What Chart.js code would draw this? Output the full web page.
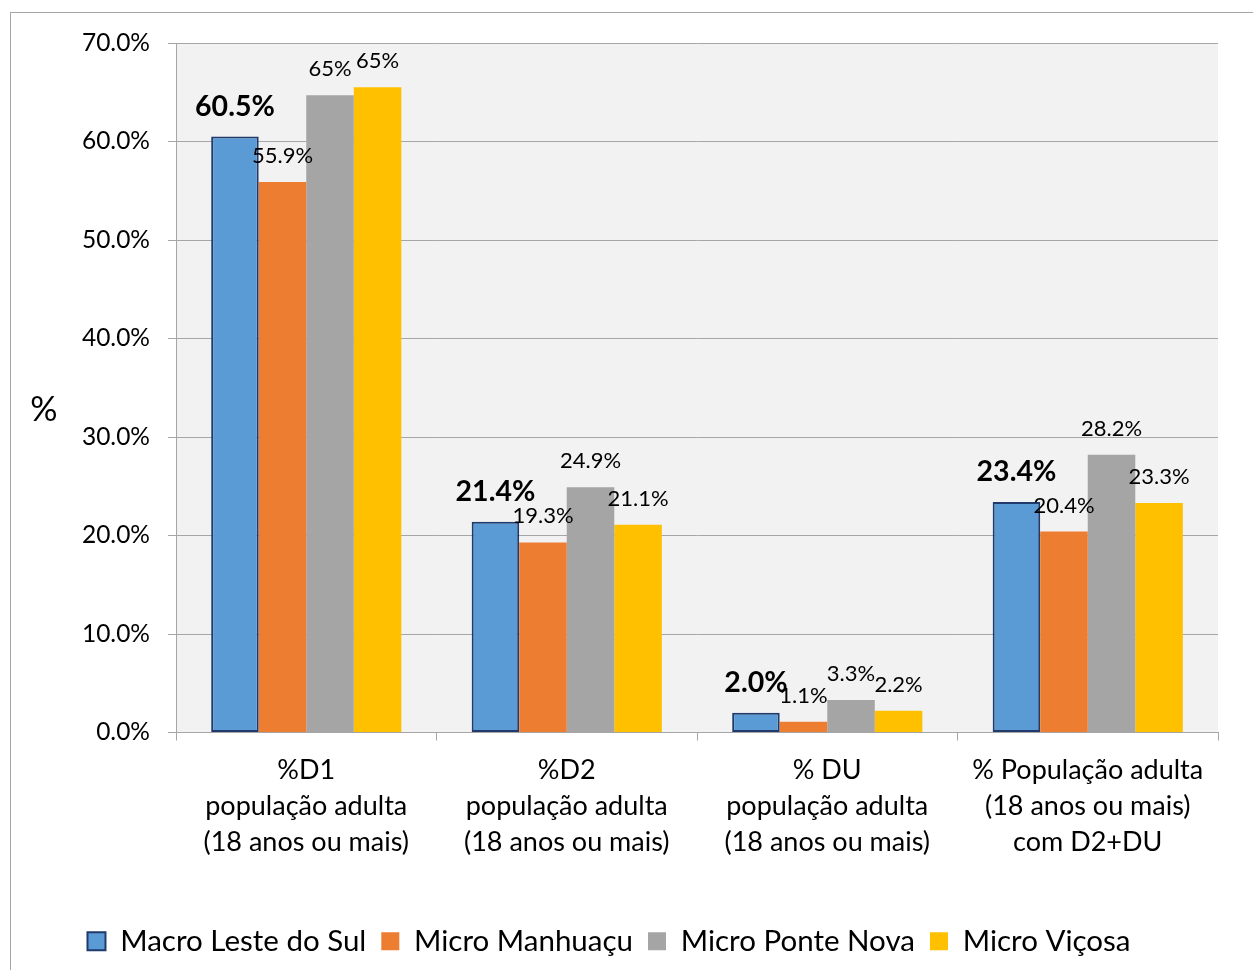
<!DOCTYPE html>
<html>
<head>
<meta charset="utf-8">
<script src="https://cdn.jsdelivr.net/npm/chart.js@4.4.0/dist/chart.umd.min.js"></script>
<style>
  body { margin: 0; background: #fff; }
  #wrap { width: 1253px; height: 970px; }
</style>
</head>
<body>
<div id="wrap"><canvas id="grafico" width="1253" height="970"></canvas></div>
<script>
// categorias e series
var categorias = [
    ['%D1', 'população adulta', '(18 anos ou mais)'],
    ['%D2', 'população adulta', '(18 anos ou mais)'],
    ['% DU', 'população adulta', '(18 anos ou mais)'],
    ['% População adulta', '(18 anos ou mais)', 'com D2+DU']
];
var series = ['Macro Leste do Sul', 'Micro Manhuaçu', 'Micro Ponte Nova', 'Micro Viçosa'];
var macroLeste = [60.5, 21.4, 2.0, 23.4];
var microManhuacu = [55.9, 19.3, 1.1, 20.4];
var microPonteNova = [64.7, 24.9, 3.3, 28.2];
var microVicosa = [65.5, 21.1, 2.2, 23.3];
// rotulos como aparecem no grafico
var rotMacro = ['60.5%', '21.4%', '2.0%', '23.4%'];
var rotManhuacu = ['55.9%', '19.3%', '1.1%', '20.4%'];
var rotPonteNova = ['65%', '24.9%', '3.3%', '28.2%'];
var rotVicosa = ['65%', '21.1%', '2.2%', '23.3%'];
var yTicks = [0, 10, 20, 30, 40, 50, 60, 70];

var cores = ['#5b9bd5', '#ed7d31', '#a5a5a5', '#ffc000'];
var fonte = 'Lato, "Open Sans", sans-serif';

var fundoPlugin = {
    id: 'fundo',
    beforeDraw: function (chart) {
        var c = chart.ctx, a = chart.chartArea;
        c.save();
        c.strokeStyle = '#a6a6a6';
        c.lineWidth = 1;
        c.strokeRect(10.5, 12.5, 1400, 1100);
        c.fillStyle = '#f2f2f2';
        c.fillRect(a.left, a.top, a.right - a.left, a.bottom - a.top);
        c.restore();
    },
    afterDraw: function (chart) {
        var c = chart.ctx;
        c.save();
        c.fillStyle = '#000';
        c.font = '34px ' + fonte;
        c.textAlign = 'center';
        c.textBaseline = 'middle';
        c.fillText('%', 44, 410);
        c.restore();
    }
};

var rotulos = [rotMacro, rotManhuacu, rotPonteNova, rotVicosa];
var rotulosPlugin = {
    id: 'rotulos',
    afterDatasetsDraw: function (chart) {
        var c = chart.ctx;
        c.save();
        c.fillStyle = '#000';
        c.textAlign = 'center';
        c.textBaseline = 'middle';
        chart.data.datasets.forEach(function (ds, i) {
            var meta = chart.getDatasetMeta(i);
            meta.data.forEach(function (bar, j) {
                if (i == 0) {
                    c.font = 'bold 28.5px ' + fonte;
                    c.fillText(rotulos[i][j], bar.x, bar.y - 30);
                } else {
                    c.font = '22px ' + fonte;
                    c.fillText(rotulos[i][j], bar.x, bar.y - 26);
                }
            });
        });
        c.restore();
    }
};

var ctx = document.getElementById('grafico').getContext('2d');
var grafico = new Chart(ctx, {
    type: 'bar',
    data: {
        labels: categorias,
        datasets: [
            { label: series[0], data: macroLeste, backgroundColor: cores[0], borderColor: '#1f3a6b', borderWidth: 2, borderSkipped: false },
            { label: series[1], data: microManhuacu, backgroundColor: cores[1], borderWidth: 0 },
            { label: series[2], data: microPonteNova, backgroundColor: cores[2], borderWidth: 0 },
            { label: series[3], data: microVicosa, backgroundColor: cores[3], borderWidth: 0 }
        ]
    },
    options: {
        responsive: false,
        animation: false,
        categoryPercentage: 0.73,
        barPercentage: 1.0,
        layout: { padding: { top: 43, right: 35, left: 0, bottom: 4 } },
        plugins: {
            legend: {
                position: 'bottom',
                labels: {
                    font: { family: fonte, size: 29.5 },
                    color: '#000',
                    boxWidth: 18,
                    boxHeight: 18,
                    padding: 15
                }
            },
            tooltip: { enabled: false }
        },
        scales: {
            x: {
                grid: { display: true, drawOnChartArea: false, offset: true, tickLength: 8, color: '#a6a6a6' },
                border: { color: '#a6a6a6' },
                ticks: { font: { family: fonte, size: 27, lineHeight: 1.333 }, color: '#000', padding: 12, maxRotation: 0 },
                afterFit: function (s) { s.height = 179; }
            },
            y: {
                min: 0,
                max: 70,
                afterBuildTicks: function (s) { s.ticks = yTicks.map(function (v) { return { value: v }; }); },
                grid: { color: '#a6a6a6', tickLength: 8 },
                border: { color: '#a6a6a6' },
                ticks: {
                    font: { family: fonte, size: 24.5 },
                    color: '#000',
                    padding: 18,
                    callback: function (v) { return v.toFixed(1) + '%'; }
                },
                afterFit: function (s) { s.width = 176; }
            }
        }
    },
    plugins: [fundoPlugin, rotulosPlugin]
});
</script>
</body>
</html>
